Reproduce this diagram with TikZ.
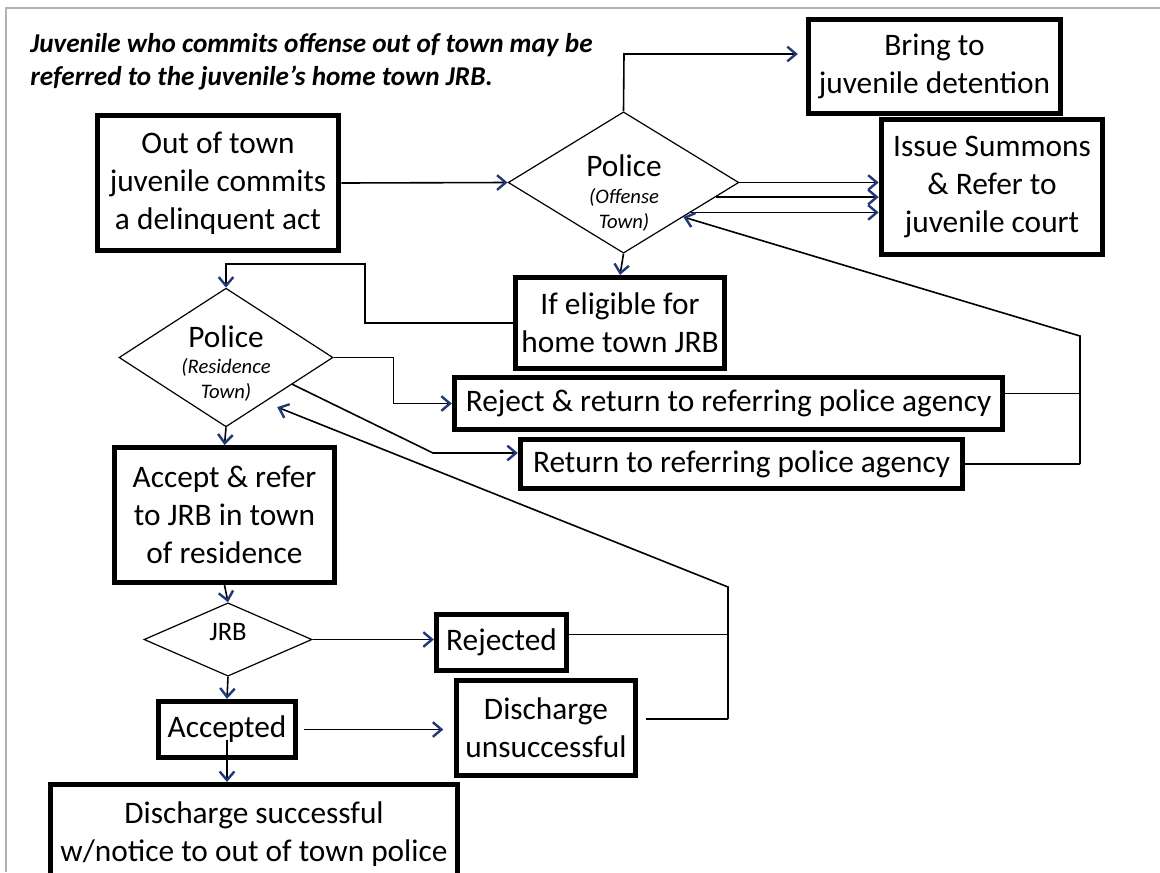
\documentclass[tikz,border=0pt]{standalone}
\usepackage{fontspec}
\setmainfont{Carlito}
\usetikzlibrary{arrows.meta,shapes}
\definecolor{tipblue}{RGB}{31,56,120}

\begin{document}
\begin{tikzpicture}[x=0.75pt,y=-0.75pt,
  box/.style={draw, line width=4pt, align=center, inner sep=0pt, font=\fontsize{23.5}{28.6}\selectfont},
  decision/.style={draw, diamond, line width=0.9pt, inner sep=0pt},
  wire/.style={line width=1.2pt},
  link/.style={wire, -{Straight Barb[length=6.5pt,width=11pt,line width=1.8pt,color=tipblue]}},
  bigtxt/.style={inner sep=0pt, font=\fontsize{23.5}{28.6}\selectfont},
  subtxt/.style={inner sep=0pt, align=center, font=\itshape\fontsize{15.5}{18.5}\selectfont}]
\useasboundingbox (0,0) rectangle (1160,872);
\draw[gray!60, line width=1.2pt] (1160,8) -- (6,8) -- (6,872);

\node[inner sep=0pt, anchor=west, align=left, font=\bfseries\itshape\fontsize{20.4}{24.75}\selectfont] (note) at (30,61.5)
{Juvenile who commits offense out of town may be\\referred to the juvenile’s home town JRB.};

\node[box, minimum width=181pt, minimum height=101pt] (out) at (218,183) {Out of town\\juvenile commits\\a delinquent act};
\node[decision, minimum width=173pt, minimum height=106pt] (police1) at (623.5,182.5) {};
\node[bigtxt] (p1word) at (624,166) {Police};
\node[subtxt] (p1sub) at (624,210) {(Offense\\Town)};
\node[box, minimum width=189pt, minimum height=70.5pt] (bring) at (934.5,66.5) {Bring to\\juvenile detention};
\node[box, minimum width=166pt, minimum height=101pt] (summons) at (992,187) {Issue Summons\\\& Refer to\\juvenile court};
\node[box, minimum width=157pt, minimum height=68pt] (eligible) at (620,323) {If eligible for\\home town JRB};
\node[decision, minimum width=160.5pt, minimum height=104pt] (police2) at (226,357.5) {};
\node[bigtxt] (p2word) at (226,337) {Police};
\node[subtxt] (p2sub) at (226,380) {(Residence\\Town)};
\node[box, minimum width=411pt, minimum height=39pt] (reject) at (728.5,403.5) {Reject \& return to referring police agency};
\node[box, minimum width=331.5pt, minimum height=37pt] (return) at (741.5,464) {Return to referring police agency};
\node[box, minimum width=165pt, minimum height=101pt] (accept) at (224.5,515) {Accept \& refer\\to JRB in town\\of residence};
\node[decision, minimum width=126pt, minimum height=55pt] (jrb) at (228,639.5) {};
\node[inner sep=0pt, font=\fontsize{20}{24}\selectfont] (jrbword) at (228,632) {JRB};
\node[box, minimum width=97.5pt, minimum height=42pt] (rejected) at (501.5,642.5) {Rejected};
\node[box, minimum width=103pt, minimum height=42pt] (accepted) at (227,729.5) {Accepted};
\node[box, minimum width=134pt, minimum height=71pt] (dunsucc) at (546,728) {Discharge\\unsuccessful};
\node[box, minimum width=305pt, minimum height=74pt] (dsucc) at (254,834) {Discharge successful\\w/notice to out of town police};

\coordinate (bringturn) at (624,54);
\coordinate (eligturn) at (365,264);
\coordinate (retturn) at (433,453);
\coordinate (rtop) at (1080,336);
\coordinate (rbot) at (1080,464);
\coordinate (jtop) at (728,587);
\coordinate (jbot) at (728,719);

\draw[link] (out.east) -- (police1.west);
\draw[link, shorten >=6pt] (police1.north) -- (bringturn) -- (bringturn -| bring.west);
\draw[link] (police1.east) -- (police1.east -| summons.west);
\draw[link] (police1.-9) -- (police1.-9 -| summons.west);
\draw[link] (police1.-24) -- (police1.-24 -| summons.west);
\draw[link] (police1.south) -- (eligible.north);
\draw[link] (eligible.west) -| (eligturn) -| (police2.north);
\draw[link] (police2.east) -- ++(60,0) |- (reject.west);
\draw[link] (police2.-22) -- (retturn) -- (retturn -| return.west);
\draw[wire] ([yshift=7.5pt]reject.east) -- ([yshift=7.5pt]reject.east -| rtop);
\draw[wire] (return.east) -- (rbot);
\draw[link] (rbot) -- (rtop) -- (police1.-30);
\draw[link] (police2.south) -- (accept.north);
\draw[link] (accept.south) -- (jrb.north);
\draw[link] (jrb.east) -- (jrb.east -| rejected.west);
\draw[link] (jrb.south) -- (accepted.north);
\draw[link, shorten <=4pt, shorten >=8pt] (accepted.east) -- (accepted.east -| dunsucc.west);
\draw[link] (accepted.center) ++(0,10) -- (accepted.center |- dsucc.north);
\draw[wire] ([yshift=6pt]rejected.east) -- ([yshift=6pt]rejected.east -| jtop);
\draw[wire] ([xshift=6pt,yshift=6.75pt]dunsucc.east) -- (jbot);
\draw[link, shorten >=10pt] (jbot) -- (jtop) -- (police2.-49);
\end{tikzpicture}
\end{document}
